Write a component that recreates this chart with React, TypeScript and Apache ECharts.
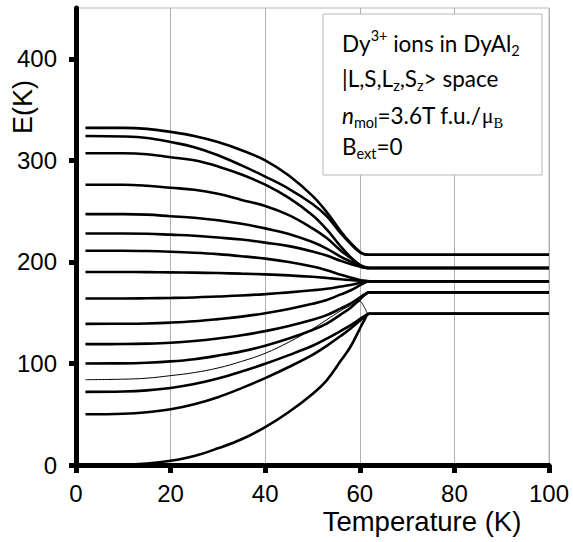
import React, { useEffect, useRef } from "react";
import * as echarts from "echarts";

// Temperature grid (K)
const temperatures = [2, 10, 15, 20, 25, 30, 35, 40, 45, 50, 53, 56, 58, 60, 61, 62, 100];

// Energy levels E(K) of Dy3+ states
const level01 = [332, 332, 331, 328, 324, 318, 310, 300, 285, 265, 249, 230, 219, 210, 207.5, 207, 207];
const level02 = [324, 323.5, 322, 318, 313, 305, 295, 284, 272, 257, 245, 228, 218, 209.5, 207.5, 207, 207];
const level03 = [307, 307, 306, 303, 300, 294, 286, 276, 263, 246, 232, 215, 205, 197, 195, 194, 194];
const level04 = [276, 276, 275, 273, 271, 267, 261, 255, 246, 233, 223.5, 211, 204, 197, 195, 194, 194];
const level05 = [247, 247, 246.5, 245, 243.5, 241, 237.5, 233, 227.5, 219.5, 213, 205, 200.5, 196, 194.5, 194, 194];
const level06 = [228, 228, 227.7, 226.8, 225.8, 224, 222, 219, 215.5, 210.3, 206.2, 201, 198, 195.4, 194.3, 194, 194];
const level07 = [211, 211, 210.7, 210, 209, 207.6, 205.6, 203.2, 199.9, 195.4, 191.8, 187.3, 184.6, 182.2, 181.3, 181, 181];
const level08 = [190, 190, 189.9, 189.7, 189.4, 189, 188.4, 187.7, 186.7, 185.3, 184.2, 182.9, 182.1, 181.4, 181.1, 181, 181];
const level09 = [164, 164, 164.2, 164.5, 165, 165.9, 166.9, 168.3, 170, 172, 173.5, 175.7, 177.3, 179.3, 180.3, 181, 181];
const level10 = [139, 139.1, 139.4, 140.2, 141.5, 143.6, 146.1, 149.5, 153.7, 158.7, 162.5, 168, 171.8, 176.8, 179.3, 181, 181];
const level11 = [119, 119.1, 119.5, 120.4, 122.1, 124.6, 127.7, 131.8, 136.9, 143, 147.6, 154.2, 158.8, 164.9, 168, 170, 170];
const level12 = [100, 100.1, 100.7, 102, 104.2, 107.7, 111.9, 117.5, 124.5, 132.9, 139.2, 148.3, 154.6, 163, 167.2, 170, 170];
const level13 = [84, 84.5, 85.5, 88, 91, 95.5, 102, 110, 121, 134, 143, 152, 157, 161, 155, 149, 149];
const level14 = [72, 72.4, 73.5, 75.9, 79.7, 85.1, 92, 99.7, 108.2, 117.4, 124.4, 132.1, 137.5, 143.6, 146.7, 149, 149];
const level15 = [50, 50.5, 52, 54.9, 59.9, 66.8, 75.7, 85.6, 96.5, 108.4, 117.3, 127.2, 134.2, 142.1, 146, 149, 149];
const level16 = [0, 0.3, 1.5, 4.2, 8.9, 16.4, 25.3, 37.3, 52.2, 70, 83.4, 102.8, 116.2, 134.1, 143, 149, 149];

const levels = [
  level01, level02, level03, level04, level05, level06, level07, level08,
  level09, level10, level11, level12, level13, level14, level15, level16,
];
const thinLevels = [12]; // index of the thin line

const yTicks = [0, 100, 200, 300, 400];
const xTicks = [0, 20, 40, 60, 80, 100];

const ARIAL = "Arial, Liberation Sans, sans-serif";
const LEGEND_FONT = "Lato, sans-serif";
const SERIF = "Liberation Serif, serif";

export default function App() {
  const ref = useRef<HTMLDivElement>(null);

  useEffect(() => {
    if (!ref.current) return;
    const chart = echarts.init(ref.current, null, { renderer: "svg" });

    const series = levels.map((lv, i) => ({
      type: "line",
      name: "E" + (i + 1),
      data: temperatures.map((t, j) => [t, lv[j]]),
      showSymbol: false,
      smooth: 0.4,
      lineStyle: { color: "#000", width: thinLevels.includes(i) ? 1 : 2.6 },
      z: 3,
    }));

    const legendRich = {
      sup: { fontSize: 14.5, lineHeight: 15, verticalAlign: "top", fontFamily: LEGEND_FONT, fill: "#000" },
      sub: { fontSize: 14.5, lineHeight: 15, verticalAlign: "bottom", fontFamily: LEGEND_FONT, fill: "#000" },
      it: { fontSize: 22.5, lineHeight: 30, fontStyle: "italic", fontFamily: LEGEND_FONT, fill: "#000" },
      mu: { fontSize: 22, lineHeight: 30, fontFamily: SERIF, fill: "#000" },
      subs: { fontSize: 14.5, lineHeight: 15, verticalAlign: "bottom", fontFamily: SERIF, fill: "#000" },
    };
    const legendLine = (text: string, y: number) => ({
      type: "text",
      left: 342,
      top: y,
      z: 20,
      style: {
        text,
        fontSize: 22.5,
        lineHeight: 30,
        fontFamily: LEGEND_FONT,
        fill: "#000",
        rich: legendRich,
      },
    });

    chart.setOption({
      animation: false,
      backgroundColor: "#fff",
      grid: {
        left: 76,
        right: 24,
        top: 8,
        bottom: 77,
        show: true,
        borderColor: "#b8b8b8",
        borderWidth: 1,
        outerBoundsMode: "none",
      },
      xAxis: {
        type: "value",
        min: 0,
        max: 100,
        interval: 20,
        axisLine: { show: true, lineStyle: { color: "#000", width: 5 } },
        axisTick: { show: true, length: 8, lineStyle: { color: "#000", width: 5 } },
        axisLabel: {
          color: "#000",
          fontSize: 24,
          fontFamily: ARIAL,
          margin: 16,
          customValues: xTicks,
        },
        splitLine: { show: true, lineStyle: { color: "#b0b0b0", width: 1 } },
      },
      yAxis: {
        type: "value",
        min: 0,
        max: 450,
        interval: 100,
        axisLine: { show: true, lineStyle: { color: "#000", width: 5 } },
        axisTick: { show: true, length: 7, lineStyle: { color: "#000", width: 5 }, customValues: yTicks },
        axisLabel: {
          color: "#000",
          fontSize: 24,
          fontFamily: ARIAL,
          margin: 19,
          customValues: yTicks,
        },
        splitLine: { show: false },
      },
      graphic: [
        {
          type: "rect",
          shape: { x: 323, y: 14, width: 219, height: 161 },
          style: { fill: "#fff", stroke: "#b8b8b8", lineWidth: 1 },
          z: 10,
        },
        legendLine("Dy{sup|3+} ions in DyAl{sub|2}", 28),
        legendLine("|L,S,L{sub|z},S{sub|z}> space", 63),
        legendLine("{it|n}{sub|mol}=3.6T f.u./{mu|μ}{subs|B}", 100),
        legendLine("B{sub|ext}=0", 131),
        {
          type: "text",
          x: 23,
          y: 107,
          rotation: Math.PI / 2,
          z: 20,
          style: {
            text: "E(K)",
            fontSize: 27,
            fontFamily: ARIAL,
            fill: "#000",
            align: "center",
            verticalAlign: "middle",
          },
        },
        {
          type: "text",
          x: 422,
          y: 521,
          z: 20,
          style: {
            text: "Temperature (K)",
            fontSize: 27.5,
            fontFamily: ARIAL,
            fill: "#000",
            align: "center",
            verticalAlign: "middle",
          },
        },
      ],
      series,
    });

    return () => chart.dispose();
  }, []);

  return (
    <div
      ref={ref}
      style={{ position: "fixed", left: 0, top: 0, width: 573, height: 542 }}
    />
  );
}
